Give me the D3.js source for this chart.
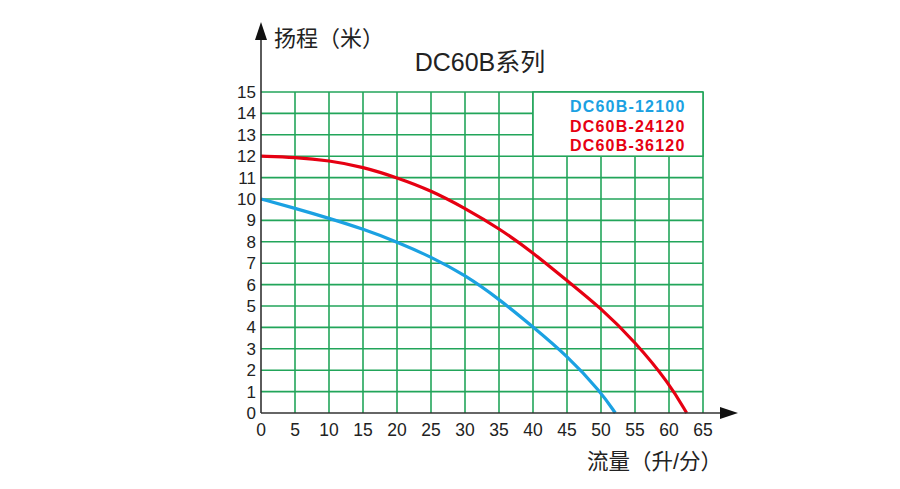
<!DOCTYPE html>
<html>
<head>
<meta charset="utf-8">
<script src="https://cdn.jsdelivr.net/npm/d3@7"></script>
<style>
  body { margin: 0; background: #fff; }
  svg text { font-family: "Liberation Sans", Arial, "Noto Sans CJK SC", sans-serif; }
</style>
</head>
<body>
<div id="chart"></div>
<script>
// Pump curves, DC60B series
const xTicks = [0, 5, 10, 15, 20, 25, 30, 35, 40, 45, 50, 55, 60, 65];
const yTicks = [0, 1, 2, 3, 4, 5, 6, 7, 8, 9, 10, 11, 12, 13, 14, 15];

const blueFlow = [0, 5, 10, 15, 20, 25, 30, 35, 40, 45, 50, 52.1];
const blueHead = [10, 9.57, 9.1, 8.6, 8.0, 7.3, 6.45, 5.33, 4.02, 2.68, 0.98, 0];

const redFlow = [0, 5, 10, 15, 20, 25, 30, 35, 40, 45, 50, 55, 60, 62.6];
const redHead = [12, 11.95, 11.8, 11.5, 11.0, 10.4, 9.57, 8.63, 7.5, 6.18, 4.9, 3.33, 1.4, 0];

const legendNames = ["DC60B-12100", "DC60B-24120", "DC60B-36120"];
const legendColors = ["#1ba1e2", "#e60012", "#e60012"];

const W = 900, H = 489;
const green = "#22a55a";
const axisColor = "#333";

const svg = d3.select("#chart").append("svg")
  .attr("width", W).attr("height", H);

const x = d3.scaleLinear().domain([0, 65]).range([261, 703]);
const y = d3.scaleLinear().domain([0, 15]).range([413, 92]);

// Grid
const grid = svg.append("g");
grid.selectAll(".vl").data(xTicks.filter(d => d > 0))
  .join("line")
  .attr("x1", d => x(d)).attr("x2", d => x(d))
  .attr("y1", y(0)).attr("y2", y(15))
  .attr("stroke", green).attr("stroke-width", 1.6);
grid.selectAll(".hl").data(yTicks.filter(d => d > 0))
  .join("line")
  .attr("x1", x(0)).attr("x2", x(65))
  .attr("y1", d => y(d)).attr("y2", d => y(d))
  .attr("stroke", green).attr("stroke-width", 1.6);

// Legend box sits over the grid
svg.append("rect")
  .attr("x", x(40)).attr("y", y(15))
  .attr("width", x(65) - x(40)).attr("height", y(12) - y(15))
  .attr("fill", "#fff").attr("stroke", green).attr("stroke-width", 1.6);

svg.selectAll(".leg").data(legendNames)
  .join("text")
  .attr("x", 570).attr("y", (d, i) => 112 + i * 19.5)
  .attr("font-size", 16).attr("font-weight", "bold")
  .attr("letter-spacing", 1.2)
  .attr("fill", (d, i) => legendColors[i])
  .text(d => d);

// Curves
const line = d3.line()
  .x(d => x(d[0])).y(d => y(d[1]))
  .curve(d3.curveBasis);

svg.append("path")
  .datum(blueFlow.map((v, i) => [v, blueHead[i]]))
  .attr("d", line).attr("fill", "none")
  .attr("stroke", legendColors[0]).attr("stroke-width", 3.2);

svg.append("path")
  .datum(redFlow.map((v, i) => [v, redHead[i]]))
  .attr("d", line).attr("fill", "none")
  .attr("stroke", legendColors[1]).attr("stroke-width", 3.2);

// Axes with arrows
svg.append("line")
  .attr("x1", x(0)).attr("x2", x(0))
  .attr("y1", y(0)).attr("y2", 34)
  .attr("stroke", axisColor).attr("stroke-width", 1.6);
svg.append("path")
  .attr("d", `M${x(0)},22 L${x(0) - 6},40 L${x(0) + 6},40 Z`)
  .attr("fill", "#111");

svg.append("line")
  .attr("x1", x(0)).attr("x2", 725)
  .attr("y1", y(0)).attr("y2", y(0))
  .attr("stroke", axisColor).attr("stroke-width", 1.6);
svg.append("path")
  .attr("d", `M738,${y(0)} L720,${y(0) - 6} L720,${y(0) + 6} Z`)
  .attr("fill", "#111");

// Tick labels
svg.selectAll(".yt").data(yTicks)
  .join("text")
  .attr("x", 256).attr("y", d => y(d) + 6)
  .attr("text-anchor", "end").attr("font-size", 17).attr("fill", "#222")
  .text(d => d);

svg.selectAll(".xt").data(xTicks)
  .join("text")
  .attr("x", d => x(d)).attr("y", 436)
  .attr("text-anchor", "middle").attr("font-size", 17.5).attr("fill", "#222")
  .text(d => d);

// Titles
svg.append("text")
  .attr("x", 274).attr("y", 46)
  .attr("font-size", 22).attr("fill", "#222")
  .text("扬程（米）");

svg.append("text")
  .attr("x", 480).attr("y", 71)
  .attr("text-anchor", "middle").attr("font-size", 25).attr("fill", "#222")
  .text("DC60B系列");

svg.append("text")
  .attr("x", 722).attr("y", 469)
  .attr("text-anchor", "end").attr("font-size", 21.5).attr("fill", "#222")
  .text("流量（升/分）");
</script>
</body>
</html>
